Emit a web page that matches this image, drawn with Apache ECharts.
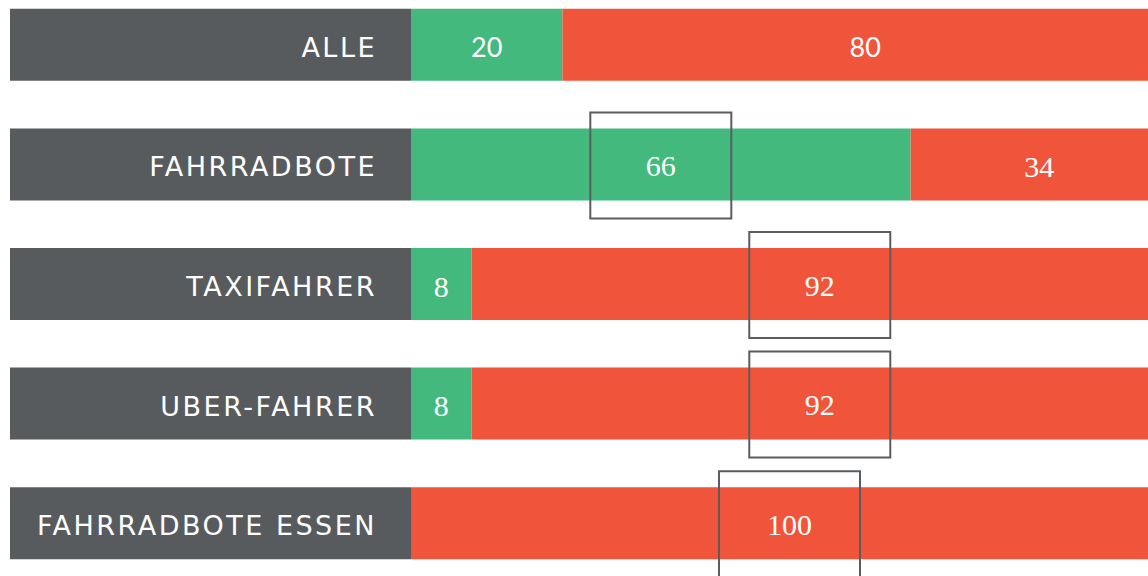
<!DOCTYPE html>
<html>
<head>
<meta charset="utf-8">
<style>
  html, body { margin: 0; padding: 0; background: #fff; overflow: hidden; }
  body { width: 1148px; height: 576px; position: relative; }
  /* Rahmen ist etwas groesser als das Fenster: letzte Zeile und rechter Rand laufen aus dem Bild */
  #chart { position: absolute; left: 0; top: -15px; width: 1168px; height: 598px; }
  #chart text[style*="DejaVu"] { letter-spacing: 2.5px; }
</style>
<script src="https://cdn.jsdelivr.net/npm/echarts@6/dist/echarts.min.js"></script>
</head>
<body>
<div id="chart"></div>
<script>
// Kategorien und Werte (Prozent)
const categories = ['ALLE', 'FAHRRADBOTE', 'TAXIFAHRER', 'UBER-FAHRER', 'FAHRRADBOTE ESSEN']
const greenValues = [20, 66, 8, 8, 0]
const redValues = [80, 34, 92, 92, 100]
// markierte Werte (Rahmen)
const greenMarked = [false, true, false, false, false]
const redMarked = [false, false, true, true, true]

const GRAY = '#575b5e'
const GREEN = '#44b97e'
const RED = '#f0553c'
const BOX = '#5a5d60'

function valueLabel(i, marked) {
  const label = {
    show: true,
    position: 'inside',
    color: '#fff',
    fontSize: i === 0 ? 27 : 30,
    fontFamily: i === 0 ? 'Lato, sans-serif' : '"Liberation Serif", serif',
    offset: [0, 2],
    formatter: function(p) {
      return p.value ? String(p.value) : ''
    }
  }
  if (marked) {
    label.offset = [0, 1]
    label.borderColor = BOX
    label.borderWidth = 2
    label.width = 141
    label.height = 106
    label.align = 'center'
  }
  return label
}

function buildData(values, marked) {
  return values.map(function(v, i) {
    return { value: v, label: valueLabel(i, marked[i]) }
  })
}

const chart = echarts.init(document.getElementById('chart'), null, { renderer: 'svg' })
const option = {
  animation: false,
  grid: {
    left: 411,
    right: 0,
    top: 0,
    bottom: 0
  },
  xAxis: {
    type: 'value',
    min: 0,
    max: 100,
    show: false
  },
  yAxis: {
    type: 'category',
    inverse: true,
    data: categories,
    axisLine: { show: false },
    axisTick: { show: false },
    splitLine: { show: false },
    axisLabel: {
      margin: 0,
      color: '#fff',
      fontSize: 27,
      fontFamily: '"DejaVu Sans", sans-serif',
      backgroundColor: GRAY,
      width: 367,
      height: 72,
      padding: [0, 34, 0, 0],
      align: 'right',
      formatter: function(v) {
        return '{t|' + v + '}'
      },
      rich: {
        t: {
          color: '#fff',
          fontSize: 27,
          fontFamily: '"DejaVu Sans", sans-serif',
          lineHeight: 77
        }
      }
    }
  },
  series: [
    {
      type: 'bar',
      stack: 'total',
      barWidth: 72,
      itemStyle: { color: GREEN },
      data: buildData(greenValues, greenMarked)
    },
    {
      type: 'bar',
      stack: 'total',
      barWidth: 72,
      itemStyle: { color: RED },
      data: buildData(redValues, redMarked)
    }
  ]
}
chart.setOption(option)
</script>
</body>
</html>
